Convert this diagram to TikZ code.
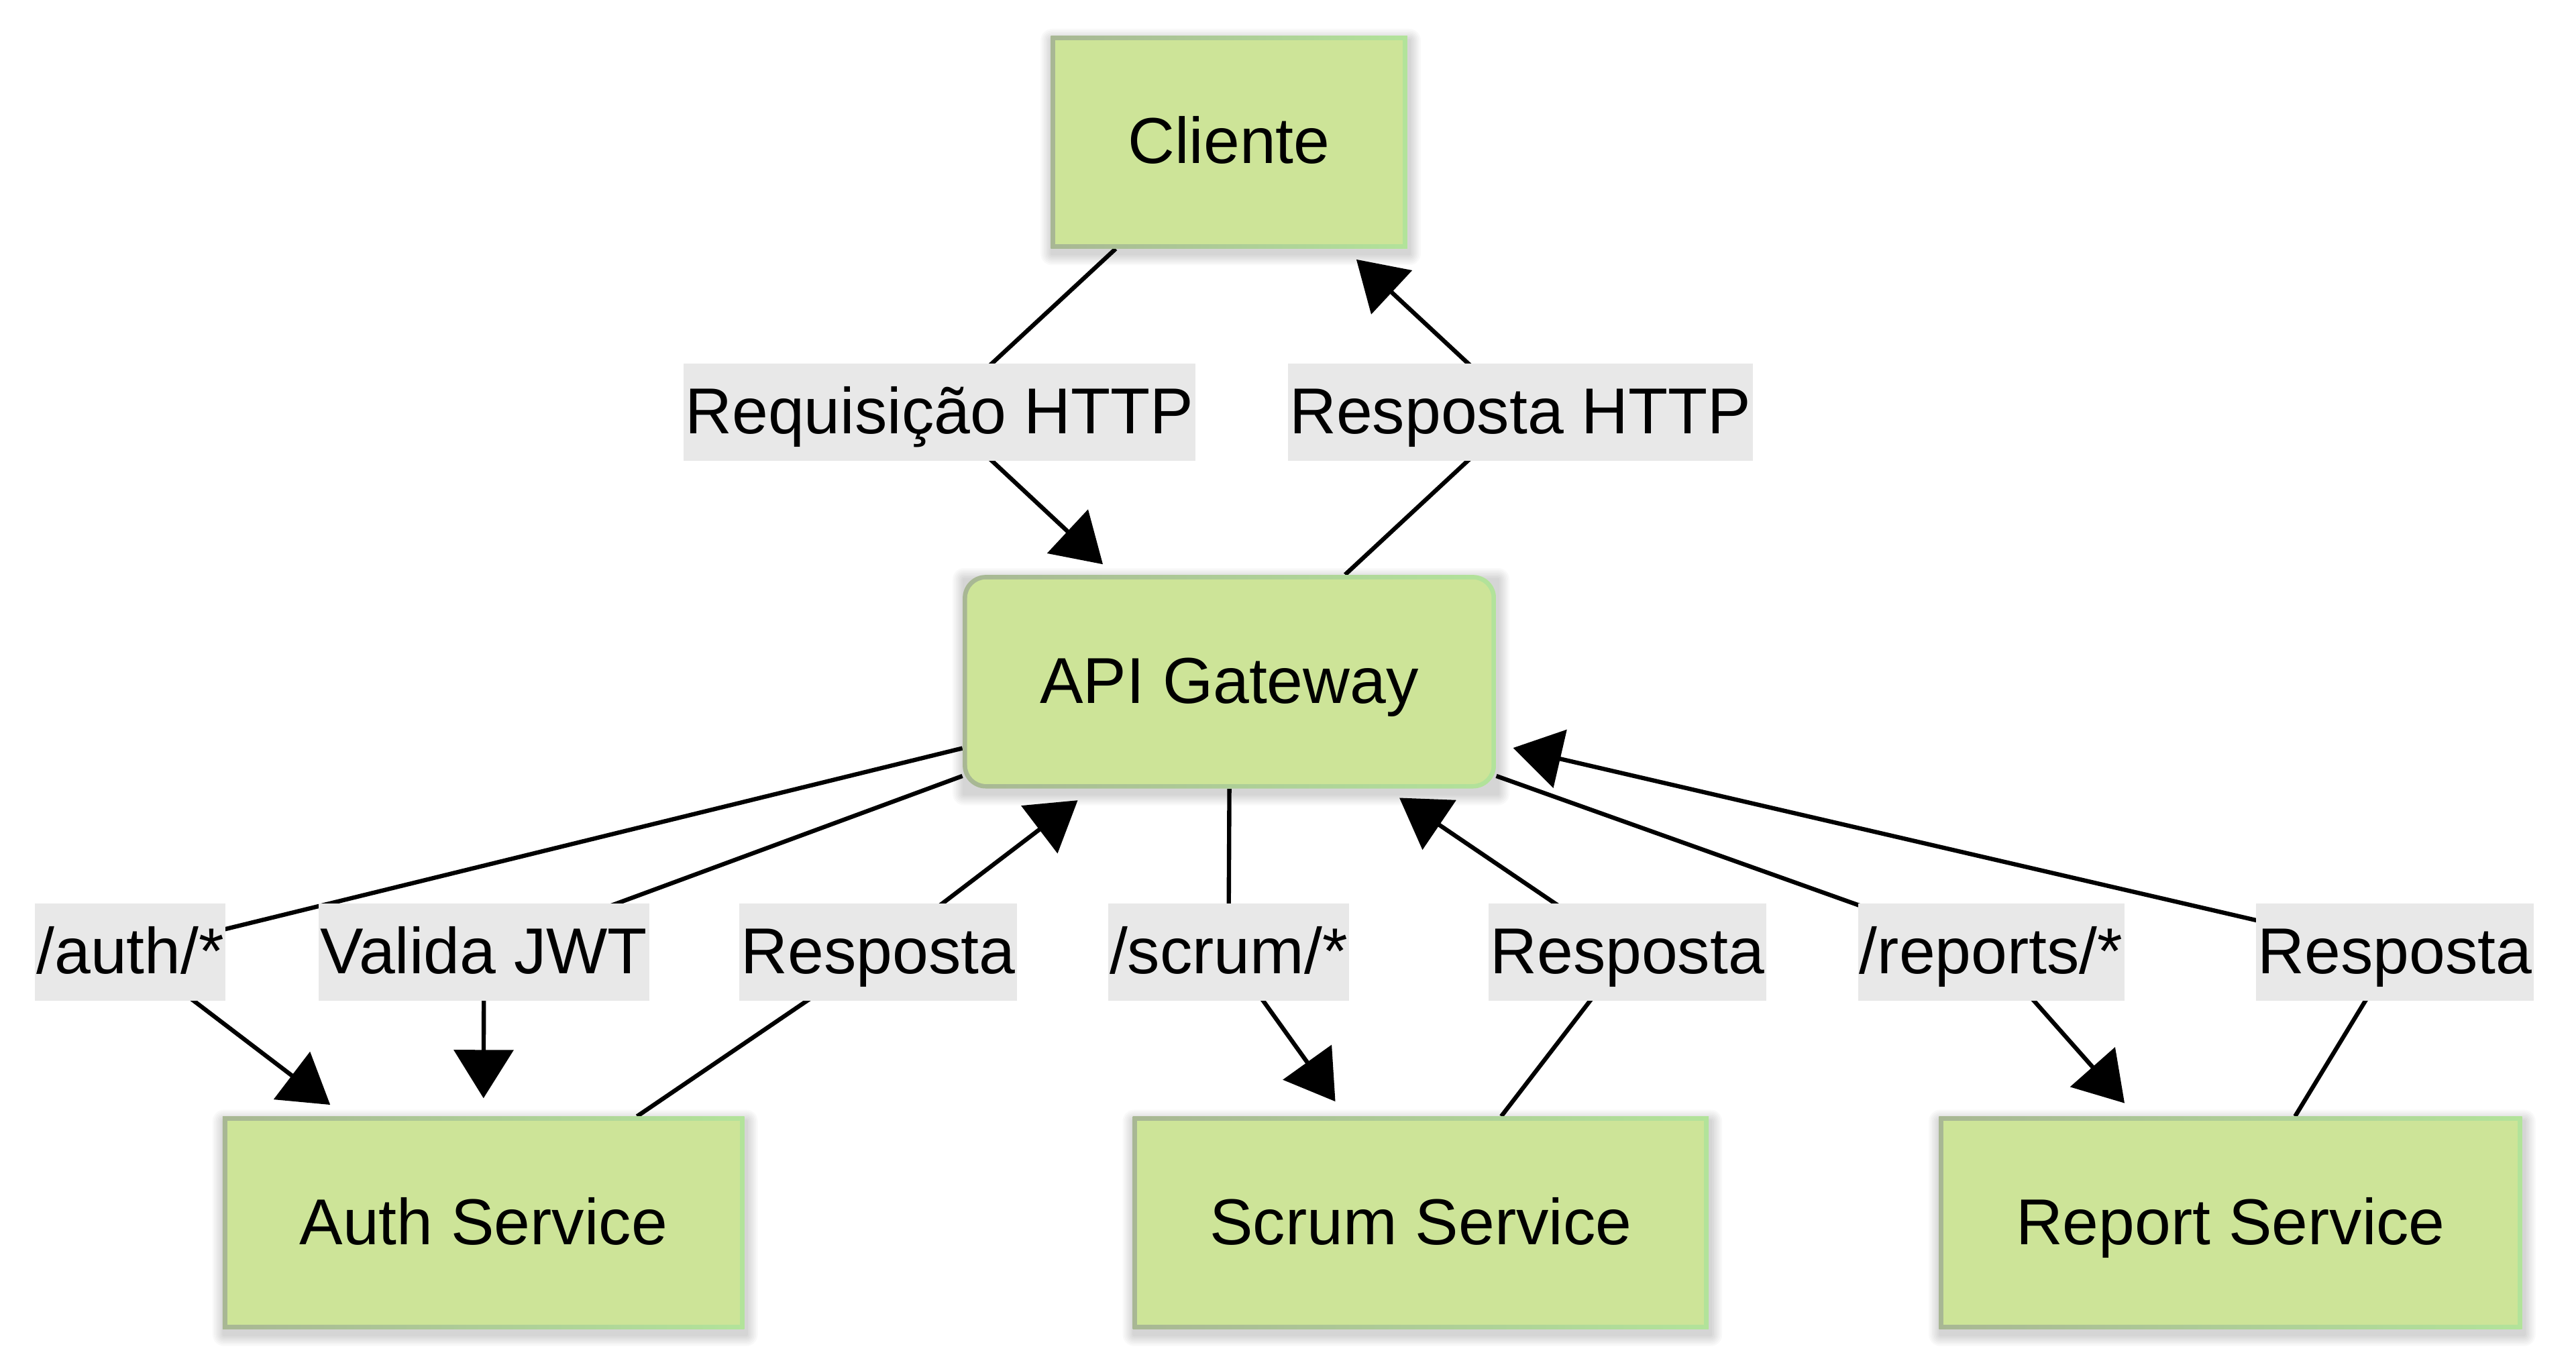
\documentclass[tikz,border=0pt]{standalone}
\usepackage{fontspec}
\setmainfont{Liberation Sans}
\usetikzlibrary{arrows.meta}
\definecolor{nodefill}{HTML}{CDE498}
\definecolor{bordL}{HTML}{A8B794}
\definecolor{bordR}{HTML}{B2E39A}
\definecolor{lblfill}{HTML}{E8E8E8}
\pgfdeclarelayer{bglayer}
\pgfdeclarelayer{edges}
\pgfsetlayers{bglayer,edges,main}
\tikzset{
  txt/.style={font=\fontsize{39.5pt}{59.25pt}\selectfont, text height=42.6pt, text depth=16.6pt, align=center},
  box/.style={txt, rectangle, inner sep=0pt, left color=bordL, right color=bordR,
    minimum height=129.5pt,
    path picture={\fill[nodefill] ([shift={(2.7pt,2.7pt)}]path picture bounding box.south west) rectangle ([shift={(-2.7pt,-2.7pt)}]path picture bounding box.north east);}},
  rbox/.style={box, rounded corners=14pt,
    path picture={\fill[nodefill, rounded corners=11.5pt] ([shift={(2.7pt,2.7pt)}]path picture bounding box.south west) rectangle ([shift={(-2.7pt,-2.7pt)}]path picture bounding box.north east);}},
  lbl/.style={txt, rectangle, fill=lblfill, inner xsep=1pt, inner ysep=0pt},
  arr/.style={draw=black, line width=2.6pt, -{Triangle[length=29.4pt,width=36pt]}},
  shadowpiece/.style={fill=black, fill opacity=0.025}
}
\newcommand{\softshadow}[1]{%
  \foreach \d in {1,2,...,7}{%
    \fill[shadowpiece, rounded corners=\d pt]
      ([shift={(-\d pt+1pt,-\d pt-3pt)}]#1.south west) rectangle
      ([shift={(\d pt+1pt,\d pt-3pt)}]#1.north east);
  }%
}
\begin{document}
\begin{tikzpicture}[x=1pt,y=-1pt]
\useasboundingbox (0,0) rectangle (1568,833);
% nodes
\node[box, minimum width=217pt] (cli) at (748.1,86.5) {Cliente};
\node[rbox, minimum width=324.6pt, minimum height=130pt] (gw) at (748.3,415) {API Gateway};
\node[box, minimum width=317.5pt] (auth) at (294.3,744.5) {Auth Service};
\node[box, minimum width=350.5pt] (scrum) at (864.8,744.5) {Scrum Service};
\node[box, minimum width=355pt] (rep) at (1357.7,744.5) {Report Service};
% edge labels
\node[lbl] (l1) at (571.9,250.8) {Requisição HTTP};
\node[lbl] (l2) at (925.4,250.8) {Resposta HTTP};
\node[lbl] (l3) at (79.3,579.8) {/auth/*};
\node[lbl] (l4) at (294.6,579.8) {Valida JWT};
\node[lbl] (l5) at (534.5,579.8) {Resposta};
\node[lbl] (l6) at (747.8,579.8) {/scrum/*};
\node[lbl] (l7) at (990.5,579.8) {Resposta};
\node[lbl] (l8) at (1212,579.8) {/reports/*};
\node[lbl] (l9) at (1457.7,579.8) {Resposta};
% background and soft shadows
\begin{pgfonlayer}{bglayer}
\fill[white] (0,0) rectangle (1568,833);
\softshadow{cli}
\softshadow{gw}
\softshadow{auth}
\softshadow{scrum}
\softshadow{rep}
\end{pgfonlayer}
% edges
\begin{pgfonlayer}{edges}
\draw[arr] ([xshift=-69pt]cli.south) -- (l1.center) -- ([xshift=-77pt,yshift=6.3pt]gw.north);
\draw[arr] ([xshift=70.5pt]gw.north) -- (l2.center) -- ([xshift=77.5pt,yshift=-6.5pt]cli.south);
\draw[arr] ([yshift=-40.5pt]gw.west) -- (l3.center) -- ([xshift=-93.3pt,yshift=7pt]auth.north);
\draw[arr] ([yshift=-57.4pt]gw.west) -- (l4.center) -- ([yshift=11pt]auth.north);
\draw[arr] ([xshift=93.5pt]auth.north) -- (l5.center) -- ([xshift=-92.3pt,yshift=-7pt]gw.south);
\draw[arr] (gw.south) -- (l6.center) -- ([xshift=-52pt,yshift=9pt]scrum.north);
\draw[arr] ([xshift=49pt]scrum.north) -- (l7.center) -- ([xshift=103.5pt,yshift=-5.5pt]gw.south);
\draw[arr] ([yshift=-57.4pt]gw.east) -- (l8.center) -- ([xshift=-64.5pt,yshift=8pt]rep.north);
\draw[arr] ([xshift=39.3pt]rep.north) -- (l9.center) -- ([xshift=10.2pt,yshift=-40.3pt]gw.east);
\end{pgfonlayer}
\end{tikzpicture}
\end{document}
